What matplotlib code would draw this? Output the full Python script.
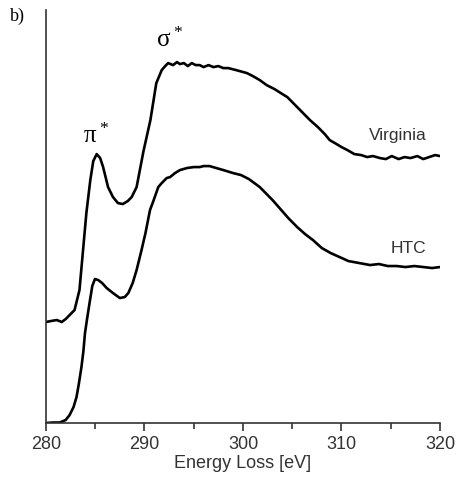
import matplotlib
matplotlib.use("Agg")
import matplotlib.pyplot as plt
from matplotlib.ticker import MultipleLocator

# energy loss [eV] and intensity (arbitrary units)
virginia_x = [280.0, 280.5, 281.1, 281.6, 282.0, 282.4, 282.9, 283.4, 283.7, 284.1,
              284.5, 284.8, 285.15, 285.5, 285.8, 286.3, 286.8, 287.3, 287.8, 288.3,
              288.7, 289.2, 289.9, 290.6, 291.2, 291.75, 292.1, 292.4, 292.9, 293.3,
              293.6, 294.0, 294.4, 294.8, 295.2, 295.6, 296.0, 296.5, 297.0, 297.5,
              298.0, 298.5, 299.3, 300.4, 301.0, 301.7, 302.4, 303.2, 304.0, 304.5,
              305.3, 306.0, 306.8, 307.6, 308.3, 308.8, 309.5, 310.0, 310.6, 311.3,
              312.0, 312.6, 313.2, 313.9, 314.5, 315.1, 315.8, 316.4, 317.0, 317.7,
              318.3, 318.9, 319.5, 320.0]
virginia_y = [101, 102, 103, 101, 104, 108, 113, 133, 166, 210,
              243, 262, 269, 265, 256, 236, 226, 220, 219, 222,
              226, 236, 272, 303, 340, 353, 357, 360, 358, 361,
              359, 360, 357, 360, 358, 358, 356, 358, 356, 357,
              355, 355, 353, 350, 347, 343, 338, 334, 329, 326,
              318, 311, 303, 296, 289, 283, 279, 276, 273, 269,
              268, 266, 267, 265, 264, 267, 264, 266, 265, 267,
              264, 266, 268, 267]

htc_x = [280.0, 280.7, 281.4, 282.0, 282.4, 282.8, 283.1, 283.35, 283.6, 283.8,
         283.96, 284.2, 284.47, 284.7, 284.97, 285.3, 285.7, 286.16, 286.8, 287.5,
         288.0, 288.36, 288.8, 289.2, 289.7, 290.1, 290.56, 290.9, 291.4, 291.75,
         292.25, 292.6, 293.1, 293.6, 294.3, 295.0, 295.6, 296.0, 296.6, 297.3,
         298.0, 299.0, 299.8, 300.6, 301.7, 302.4, 303.0, 303.8, 304.6, 305.5,
         306.3, 307.1, 308.0, 308.9, 309.8, 310.7, 311.8, 312.9, 313.8, 314.7,
         315.6, 316.5, 317.4, 318.3, 319.2, 320.0]
htc_y = [0, 0.5, 0.5, 3, 8, 16, 26, 40, 56, 72,
         90, 106, 123, 137, 144, 143, 140, 135, 130, 125,
         126, 130, 140, 153, 173, 190, 213, 222, 236, 240,
         245, 246, 250, 253, 255, 256, 256, 257, 257, 255,
         253, 250, 248, 244, 236, 229, 223, 214, 205, 196,
         189, 183, 175, 170, 166, 162, 160, 158, 159, 157,
         157, 156, 157, 156, 155, 156]

tick_labels = ["280", "290", "300", "310", "320"]

plt.rcParams["font.family"] = ["Liberation Sans", "DejaVu Sans"]
plt.rcParams["mathtext.fontset"] = "custom"
plt.rcParams["mathtext.rm"] = "Liberation Serif"
plt.rcParams["mathtext.it"] = "Liberation Serif"

fig = plt.figure(figsize=(4.58, 4.79), dpi=100)
ax = fig.add_axes([0.1004, 0.1169, 0.8603, 0.862])

ax.plot(virginia_x, virginia_y, color="black", lw=1.9)
ax.plot(htc_x, htc_y, color="black", lw=1.9)

ax.set_xlim(280, 320)
ax.set_ylim(0, 413)
ax.set_xticks([280, 290, 300, 310, 320])
ax.set_xticklabels(tick_labels)
ax.xaxis.set_minor_locator(MultipleLocator(5))
ax.tick_params(axis="x", which="major", length=6, width=1.2, labelsize=13, colors="#333333", pad=3)
ax.tick_params(axis="x", which="minor", length=4, width=1.2, colors="#333333")
ax.set_yticks([])
ax.spines["top"].set_visible(False)
ax.spines["right"].set_visible(False)
for s in ("left", "bottom"):
    ax.spines[s].set_linewidth(1.2)
    ax.spines[s].set_color("#333333")

ax.set_xlabel("Energy Loss [eV]", fontsize=13, color="#333333", labelpad=2)

ax.text(315.7, 288, "Virginia", fontsize=12.5, color="#333333", ha="center", va="center")
ax.text(316.8, 175, "HTC", fontsize=12.5, color="#333333", ha="center", va="center")
ax.text(285.1, 287, r"$\pi^*$", fontsize=18, ha="center", va="center")
ax.text(292.6, 383, r"$\sigma^*$", fontsize=18, ha="center", va="center")
fig.text(0.022, 0.965, "b)", fontsize=13, family="Liberation Serif", ha="left", va="center")

fig.savefig("out.png", dpi=100)
